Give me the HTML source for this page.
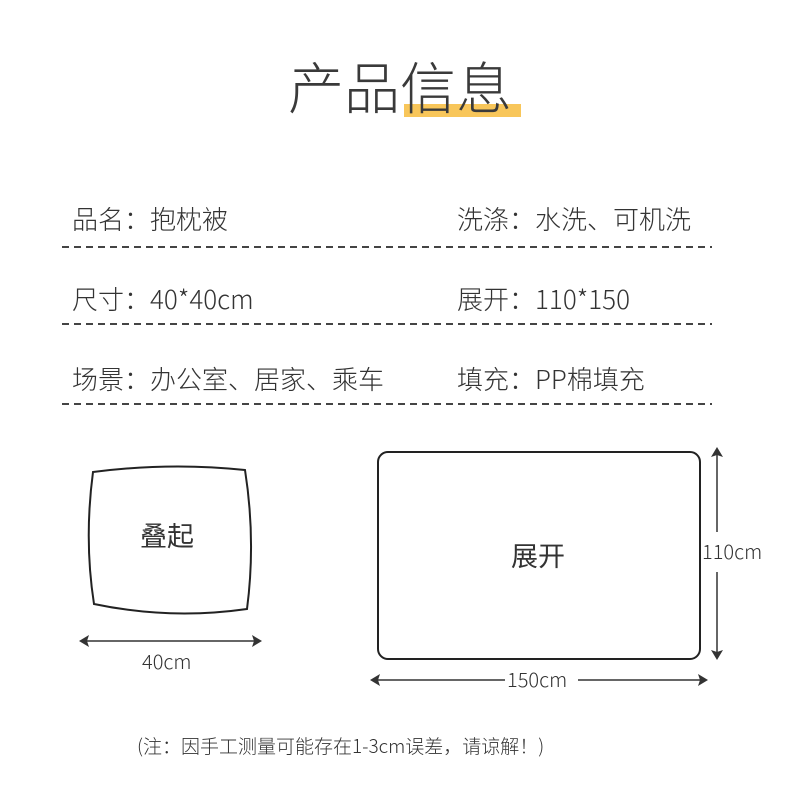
<!DOCTYPE html>
<html><head><meta charset="utf-8"><style>
body{margin:0;width:790px;height:806px;background:#fff;position:relative;overflow:hidden;font-family:"Noto Sans CJK SC","Liberation Sans",sans-serif;color:#333}
.t{position:absolute;white-space:nowrap;font-weight:300;z-index:2}
</style></head><body>
<div style="position:absolute;left:404px;top:104px;width:117px;height:13px;background:#f8c65a;z-index:1"></div>
<div class="t" style="left:288px;top:52px;font-size:56px;line-height:68px;color:#3a3a3a;font-weight:300">产品信息</div>
<div class="t" style="left:72px;top:201px;font-size:26px;line-height:36px">品名：抱枕被</div>
<div class="t" style="left:457px;top:201px;font-size:26px;line-height:36px">洗涤：水洗、可机洗</div>
<div class="t" style="left:72px;top:281px;font-size:26px;line-height:36px">尺寸：40*40cm</div>
<div class="t" style="left:457px;top:281px;font-size:26px;line-height:36px">展开：110*150</div>
<div class="t" style="left:72px;top:361px;font-size:26px;line-height:36px">场景：办公室、居家、乘车</div>
<div class="t" style="left:457px;top:361px;font-size:26px;line-height:36px">填充：PP棉填充</div>
<svg width="790" height="806" style="position:absolute;left:0;top:0">
<g stroke="#444" stroke-width="2" stroke-dasharray="7,5">
<line x1="62" y1="247" x2="712" y2="247"/>
<line x1="62" y1="324" x2="712" y2="324"/>
<line x1="62" y1="404" x2="712" y2="404"/>
</g>
<path d="M93,472 Q170,462 245,470 Q256,540 247,609 Q170,620 94,604 Q84,540 93,472 Z" fill="none" stroke="#222" stroke-width="2"/>
<rect x="378" y="452" width="322" height="207" rx="10" fill="none" stroke="#222" stroke-width="2"/>
<g stroke="#333" stroke-width="1.5" fill="none">
<line x1="84" y1="641" x2="257" y2="641"/>
<line x1="375" y1="680" x2="505" y2="680"/><line x1="578" y1="680" x2="703" y2="680"/>
<line x1="717" y1="452" x2="717" y2="532"/><line x1="717" y1="572" x2="717" y2="655"/>
</g>
<g fill="#333">
<path d="M79,641 L89,635 L87,641 L89,647 Z M262,641 L252,635 L254,641 L252,647 Z"/>
<path d="M370,680 L380,674 L378,680 L380,686 Z M708,680 L698,674 L700,680 L698,686 Z"/>
<path d="M717,447 L711,457 L717,455 L723,457 Z M717,660 L711,650 L717,652 L723,650 Z"/>
</g>
</svg>
<div class="t" style="left:140px;top:517px;font-size:27px;line-height:36px;font-weight:400">叠起</div>
<div class="t" style="left:511px;top:537px;font-size:27px;line-height:36px;font-weight:400">展开</div>
<div class="t" style="left:142px;top:649px;font-size:20px;line-height:24px">40cm</div>
<div class="t" style="left:507px;top:667px;font-size:20px;line-height:24px">150cm</div>
<div class="t" style="left:702px;top:539px;font-size:20px;line-height:24px">110cm</div>
<div class="t" style="left:137px;top:733px;font-size:19px;line-height:26px">(注：因手工测量可能存在1-3cm误差，请谅解！)</div>
</body></html>
